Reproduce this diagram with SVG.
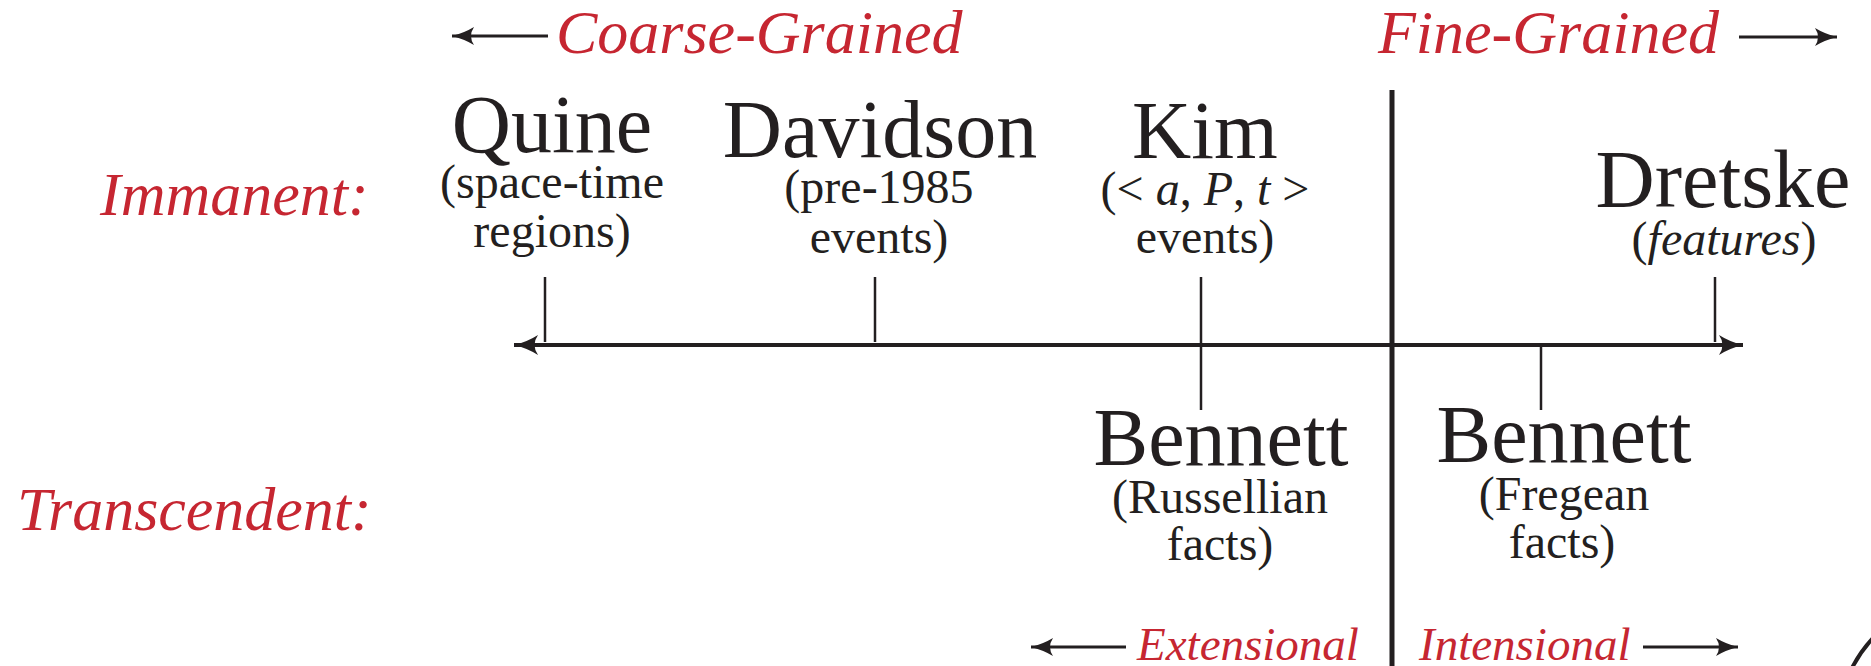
<svg xmlns="http://www.w3.org/2000/svg" width="1871" height="666" viewBox="0 0 1871 666">
<style>
.name{font-family:"Liberation Serif","Times New Roman",serif;font-size:82px;fill:#231f20;text-anchor:middle}
.sub{font-family:"Liberation Serif","Times New Roman",serif;font-size:48px;fill:#231f20;text-anchor:middle}
.red{font-family:"Liberation Serif","Times New Roman",serif;font-style:italic;font-size:62px;fill:#c62631}
.redsm{font-family:"Liberation Serif","Times New Roman",serif;font-style:italic;font-size:47px;fill:#c62631}
.it{font-style:italic}
.line{stroke:#231f20;fill:none}
</style>
<defs>
<marker id="ah" markerUnits="userSpaceOnUse" markerWidth="30" markerHeight="24" viewBox="-24 -12 30 24" refX="0" refY="0" orient="auto">
<path d="M0,0 Q-12,3 -22,9 Q-16,0 -22,-9 Q-12,-3 0,0 Z" fill="#231f20"/>
</marker>
<marker id="ahBig" markerUnits="userSpaceOnUse" markerWidth="34" markerHeight="28" viewBox="-28 -14 34 28" refX="0" refY="0" orient="auto-start-reverse">
<path d="M0,0 Q-13,3 -24,10 Q-17,0 -24,-10 Q-13,-3 0,0 Z" fill="#231f20"/>
</marker>
</defs>
<g id="connectors">
<line class="line" x1="1392" y1="90" x2="1392" y2="666" stroke-width="5"/>
<line class="line" x1="514" y1="345" x2="1743" y2="345" stroke-width="4" marker-start="url(#ahBig)" marker-end="url(#ahBig)"/>
<line class="line" x1="545" y1="277" x2="545" y2="342" stroke-width="2.5"/>
<line class="line" x1="875" y1="277" x2="875" y2="342" stroke-width="2.5"/>
<line class="line" x1="1201" y1="277" x2="1201" y2="410" stroke-width="2.5"/>
<line class="line" x1="1715" y1="277" x2="1715" y2="342" stroke-width="2.5"/>
<line class="line" x1="1541" y1="345" x2="1541" y2="410" stroke-width="2.5"/>
<line class="line" x1="548" y1="36" x2="452" y2="36" stroke-width="3" marker-end="url(#ah)"/>
<line class="line" x1="1739" y1="37" x2="1837" y2="37" stroke-width="3" marker-end="url(#ah)"/>
<line class="line" x1="1126" y1="647" x2="1031" y2="647" stroke-width="3" marker-end="url(#ah)"/>
<line class="line" x1="1643" y1="647" x2="1738" y2="647" stroke-width="3" marker-end="url(#ah)"/>
<path class="line" d="M1852,668 Q1860,652 1873,638" stroke-width="4"/>
</g>
<g id="labels">
<text class="red" x="556" y="53">Coarse-Grained</text>
<text class="red" x="1378" y="53">Fine-Grained</text>
<text class="red" x="100" y="215">Immanent:</text>
<text class="red" x="17" y="530">Transcendent:</text>
<text class="redsm" x="1137" y="660">Extensional</text>
<text class="redsm" x="1419" y="660">Intensional</text>
</g>
<g id="quine">
<text class="name" x="552" y="152">Quine</text>
<text class="sub" x="552" y="198">(space-time</text>
<text class="sub" x="552" y="247">regions)</text>
</g>
<g id="davidson">
<text class="name" x="880" y="157">Davidson</text>
<text class="sub" x="879" y="203">(pre-1985</text>
<text class="sub" x="879" y="253">events)</text>
</g>
<g id="kim">
<text class="name" x="1205" y="158">Kim</text>
<text class="sub" x="1205" y="205">(&lt; <tspan class="it">a</tspan>, <tspan class="it">P</tspan>, <tspan class="it">t</tspan> &gt;</text>
<text class="sub" x="1205" y="253">events)</text>
</g>
<g id="dretske">
<text class="name" x="1723" y="207">Dretske</text>
<text class="sub" x="1724" y="255">(<tspan class="it">features</tspan>)</text>
</g>
<g id="bennett-russellian">
<text class="name" x="1221" y="465">Bennett</text>
<text class="sub" x="1220" y="513">(Russellian</text>
<text class="sub" x="1220" y="560">facts)</text>
</g>
<g id="bennett-fregean">
<text class="name" x="1564" y="462">Bennett</text>
<text class="sub" x="1564" y="510">(Fregean</text>
<text class="sub" x="1562" y="558">facts)</text>
</g>
</svg>
